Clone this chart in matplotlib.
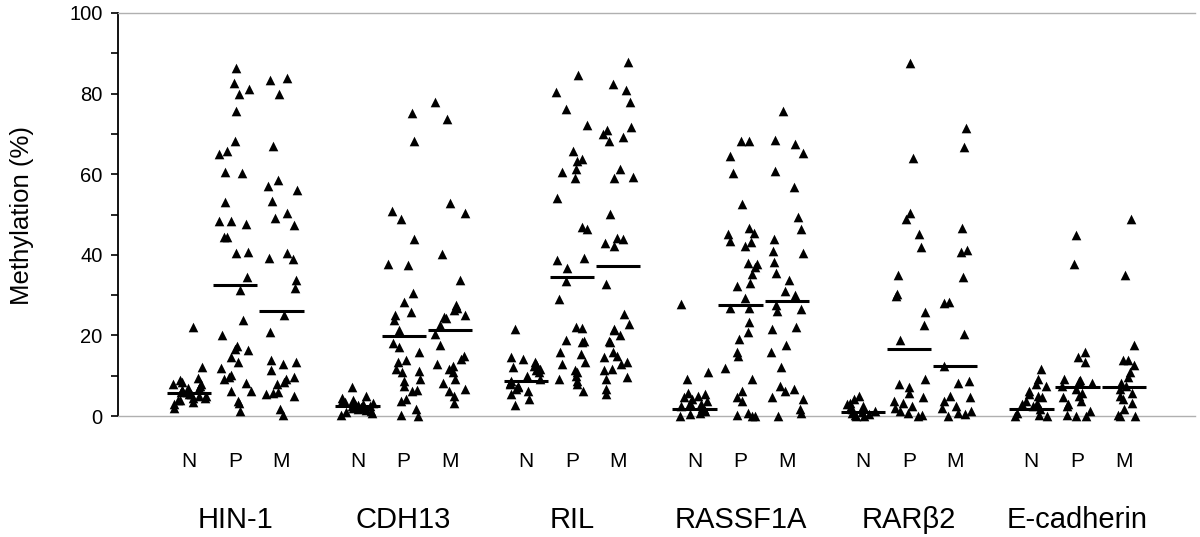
import matplotlib.pyplot as plt
import numpy as np

plt.rcParams["font.family"] = ["Liberation Sans", "DejaVu Sans"]

genes = ["HIN-1", "CDH13", "RIL", "RASSF1A", "RAR\u03b22", "E-cadherin"]
tissues = ["N", "P", "M"]

# methylation (%), one list per gene and tissue
hin1_n = [22.1, 12.1, 9.5, 9.0, 8.5, 8.0, 8.0, 7.5, 7.0, 7.0, 6.5, 6.5, 6.0, 6.0, 5.5,
          5.5, 5.0, 5.0, 4.5, 4.5, 4.0, 4.0, 3.5, 3.0, 2.1]
hin1_p = [86.4, 82.7, 81.2, 79.8, 75.8, 68.3, 65.8, 65.0, 60.6, 60.2, 53.0, 48.3, 48.3,
          47.7, 44.3, 44.3, 40.7, 40.4, 34.4, 31.3, 23.9, 20.0, 17.3, 16.7, 16.3, 14.6,
          13.3, 11.8, 10.2, 9.6, 9.2, 8.3, 6.3, 6.3, 3.8, 3.3, 1.3]
hin1_m = [83.8, 83.3, 79.8, 67.1, 58.6, 57.1, 56.0, 53.3, 50.4, 49.2, 47.5, 40.4, 39.2,
          39.0, 33.8, 31.8, 25.0, 20.8, 13.8, 13.3, 12.8, 11.5, 9.6, 9.2, 8.5, 7.9, 6.0,
          5.8, 5.4, 5.0, 1.7, 0.2]

cdh13_n = [7.3, 5.0, 4.5, 4.0, 3.8, 3.5, 3.3, 3.0, 3.0, 2.8, 2.5, 2.5, 2.2, 2.0, 2.0,
           1.8, 1.5, 1.2, 1.0, 0.8, 0.3]
cdh13_p = [75.2, 68.3, 50.8, 48.8, 44.0, 37.7, 37.5, 30.4, 28.2, 25.7, 25.0, 23.8, 21.3,
           18.2, 17.1, 16.0, 13.8, 13.3, 11.7, 11.2, 10.8, 9.2, 8.8, 7.5, 6.5, 6.2, 4.2,
           3.8, 1.7, 0.2, 0.0]
cdh13_m = [77.9, 73.8, 52.9, 50.4, 40.2, 33.8, 27.5, 26.7, 26.3, 25.0, 24.6, 24.2, 22.5,
           20.4, 17.5, 15.0, 14.2, 12.9, 12.5, 11.7, 10.8, 9.2, 8.3, 6.7, 6.3, 5.0, 3.3]

ril_n = [21.7, 14.6, 14.2, 13.3, 13.0, 12.5, 12.1, 11.7, 11.3, 10.8, 10.0, 9.2, 8.8, 8.3,
         7.9, 7.5, 7.1, 6.7, 6.3, 5.4, 4.2, 2.7]
ril_p = [84.6, 80.4, 76.3, 72.1, 65.8, 63.8, 63.3, 61.3, 60.6, 59.0, 54.2, 46.8, 46.5,
         39.3, 38.8, 36.7, 33.6, 29.0, 22.1, 21.8, 18.8, 18.5, 18.3, 15.8, 15.5, 13.3,
         13.0, 11.3, 10.8, 10.0, 9.2, 8.8, 7.9, 6.3]
ril_m = [87.9, 82.3, 80.8, 77.8, 71.7, 71.0, 70.0, 69.2, 68.2, 61.4, 59.2, 59.0, 50.2,
         44.2, 43.8, 42.9, 42.1, 32.8, 25.4, 22.9, 21.7, 21.3, 20.0, 18.5, 18.3, 15.8,
         15.0, 14.6, 13.3, 12.9, 11.7, 11.3, 9.6, 9.2, 6.7, 5.4]

rassf1a_n = [27.7, 10.8, 9.2, 5.8, 5.4, 5.0, 4.6, 4.2, 3.8, 3.3, 2.9, 2.5, 2.1, 1.7, 1.3,
             0.8, 0.4, 0.0]
rassf1a_p = [68.3, 68.2, 64.6, 60.2, 52.7, 46.7, 45.4, 45.2, 43.5, 43.3, 42.3, 37.9, 37.7,
             36.9, 35.2, 32.9, 32.3, 29.2, 26.8, 26.7, 23.3, 20.8, 19.2, 15.8, 15.0, 11.8,
             9.2, 6.3, 4.6, 3.8, 0.8, 0.3, 0.1, 0.0]
rassf1a_m = [75.8, 68.5, 67.5, 65.3, 60.7, 56.9, 49.3, 46.3, 43.8, 41.0, 40.4, 38.3, 35.4,
             33.8, 31.0, 30.0, 27.5, 26.5, 26.0, 22.1, 21.7, 17.5, 15.8, 12.1, 7.5, 6.7,
             6.3, 4.6, 4.2, 1.7, 0.8, 0.0]

rarb2_n = [5.0, 4.2, 3.3, 3.0, 2.5, 2.0, 1.7, 1.3, 1.0, 0.8, 0.5, 0.3, 0.0, 0.0]
rarb2_p = [87.5, 63.9, 50.4, 49.0, 45.2, 41.9, 35.0, 30.3, 29.8, 25.8, 22.5, 18.8, 9.2,
           7.9, 7.1, 5.8, 4.6, 3.8, 3.3, 2.5, 2.1, 1.3, 0.8, 0.2, 0.0]
rarb2_m = [71.5, 66.7, 46.7, 41.3, 40.8, 34.4, 28.2, 28.0, 20.4, 12.3, 8.8, 8.3, 5.0, 4.6,
           3.8, 2.5, 2.1, 1.3, 0.8, 0.4, 0.0]

ecad_n = [11.7, 9.2, 7.9, 7.5, 6.3, 5.4, 5.0, 4.6, 3.8, 3.3, 2.9, 2.5, 1.7, 0.8, 0.3, 0.0,
          0.0]
ecad_p = [44.8, 37.8, 15.8, 14.6, 13.3, 9.2, 9.0, 8.6, 8.3, 7.5, 6.7, 5.8, 5.0, 4.6, 3.8,
          2.9, 2.5, 1.3, 0.3, 0.0, 0.0]
ecad_m = [49.0, 35.0, 17.7, 14.0, 13.8, 12.7, 10.8, 9.6, 8.3, 7.5, 6.7, 5.8, 5.0, 4.2, 3.3,
          1.7, 0.3, 0.0, 0.0]

# group summary lines (N, P, M) as drawn in the figure
hin1_line = [5.8, 32.5, 26.1]
cdh13_line = [2.4, 19.8, 21.3]
ril_line = [8.8, 34.6, 37.3]
rassf1a_line = [1.8, 27.5, 28.5]
rarb2_line = [1.0, 16.7, 12.3]
ecad_line = [1.7, 7.1, 7.1]

series = [
    [hin1_n, hin1_p, hin1_m],
    [cdh13_n, cdh13_p, cdh13_m],
    [ril_n, ril_p, ril_m],
    [rassf1a_n, rassf1a_p, rassf1a_m],
    [rarb2_n, rarb2_p, rarb2_m],
    [ecad_n, ecad_p, ecad_m],
]
lines = [hin1_line, cdh13_line, ril_line, rassf1a_line, rarb2_line, ecad_line]

group_gap = 3.65
rng = np.random.default_rng(7)  # horizontal jitter only

fig = plt.figure(figsize=(12, 5.37), dpi=100)
ax = fig.add_axes([0.0983, 0.2253, 0.8977, 0.7505])

for g, gene in enumerate(genes):
    for k, tissue in enumerate(tissues):
        x0 = g * group_gap + k
        vals = np.array(series[g][k])
        xs = x0 + rng.uniform(-0.36, 0.36, len(vals))
        ax.scatter(xs, vals, marker="^", s=48, color="black", linewidths=0,
                   clip_on=False, zorder=3)
        ax.hlines(lines[g][k], x0 - 0.48, x0 + 0.48, color="black", lw=2.2, zorder=4)
        ax.text(x0, -0.114, tissue, transform=ax.get_xaxis_transform(),
                ha="center", va="center", fontsize=15)
    ax.text(g * group_gap + 1, -0.258, gene, transform=ax.get_xaxis_transform(),
            ha="center", va="center", fontsize=21)

ax.set_xlim(-1.54, 21.8)
ax.set_ylim(0, 100)
ax.set_xticks([])
ax.set_yticks(np.arange(0, 101, 20))
ax.set_yticks(np.arange(10, 100, 20), minor=True)
ax.tick_params(axis="y", which="major", length=5, width=1.2, labelsize=14.5, pad=6)
ax.tick_params(axis="y", which="minor", length=5, width=1.2)

ax.spines["left"].set_linewidth(1.3)
ax.spines["right"].set_visible(False)
for side in ["top", "bottom"]:
    ax.spines[side].set_color("#b0b0b0")
    ax.spines[side].set_linewidth(1.0)

fig.text(22 / 1200, 1 - 215 / 537, "Methylation (%)", rotation=90,
         ha="center", va="center", fontsize=18.5)

fig.savefig("out.png", dpi=100)
